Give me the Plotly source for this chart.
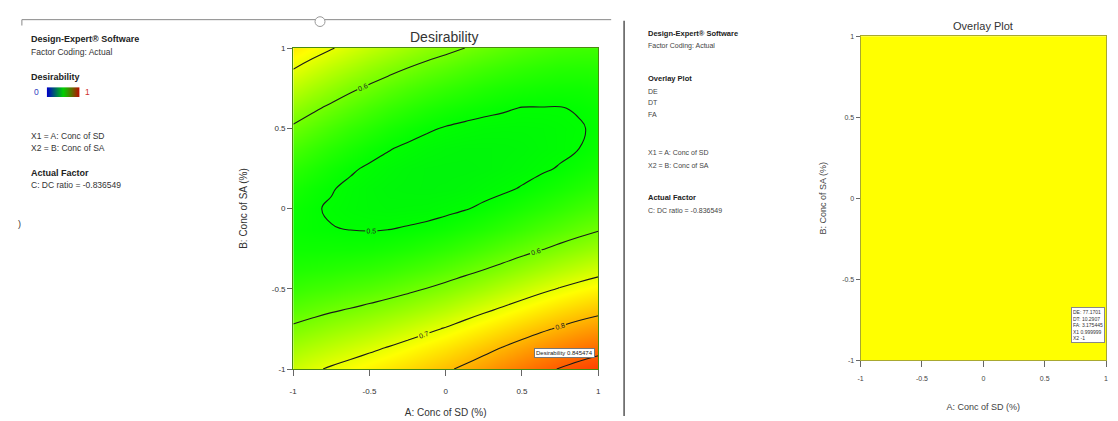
import plotly.graph_objects as go

W, H = 1118, 421
FONT = "Liberation Sans"

# ---------------- data ----------------
grid_x = [-1, -0.875, -0.75, -0.625, -0.5, -0.375, -0.25, -0.125, 0,
          0.125, 0.25, 0.375, 0.5, 0.625, 0.75, 0.875, 1]
grid_y = [-1, -0.875, -0.75, -0.625, -0.5, -0.375, -0.25, -0.125, 0,
          0.125, 0.25, 0.375, 0.5, 0.625, 0.75, 0.875, 1]
# desirability estimated from the contour picture (rows = grid_y, cols = grid_x)
desirability = [
    [0.677, 0.692, 0.706, 0.718, 0.731, 0.745, 0.759, 0.775, 0.792, 0.810, 0.829, 0.849, 0.868, 0.886, 0.903, 0.917, 0.929],
    [0.643, 0.656, 0.668, 0.680, 0.692, 0.705, 0.719, 0.734, 0.750, 0.768, 0.786, 0.805, 0.823, 0.841, 0.858, 0.873, 0.885],
    [0.608, 0.619, 0.630, 0.640, 0.650, 0.662, 0.675, 0.689, 0.704, 0.721, 0.738, 0.756, 0.774, 0.791, 0.807, 0.822, 0.834],
    [0.575, 0.584, 0.593, 0.601, 0.610, 0.620, 0.631, 0.643, 0.657, 0.673, 0.689, 0.705, 0.722, 0.739, 0.755, 0.769, 0.782],
    [0.547, 0.554, 0.559, 0.566, 0.572, 0.580, 0.590, 0.601, 0.613, 0.627, 0.641, 0.657, 0.672, 0.688, 0.703, 0.717, 0.729],
    [0.526, 0.529, 0.532, 0.536, 0.540, 0.546, 0.554, 0.562, 0.573, 0.585, 0.598, 0.611, 0.626, 0.640, 0.654, 0.667, 0.680],
    [0.512, 0.512, 0.513, 0.513, 0.515, 0.519, 0.524, 0.531, 0.539, 0.549, 0.560, 0.572, 0.584, 0.597, 0.610, 0.622, 0.634],
    [0.506, 0.503, 0.501, 0.499, 0.498, 0.499, 0.502, 0.506, 0.512, 0.520, 0.528, 0.538, 0.549, 0.561, 0.572, 0.584, 0.595],
    [0.509, 0.503, 0.497, 0.492, 0.489, 0.487, 0.488, 0.489, 0.493, 0.498, 0.505, 0.513, 0.522, 0.531, 0.541, 0.552, 0.562],
    [0.520, 0.510, 0.502, 0.494, 0.488, 0.484, 0.482, 0.481, 0.482, 0.485, 0.490, 0.495, 0.502, 0.510, 0.518, 0.527, 0.537],
    [0.538, 0.526, 0.514, 0.504, 0.496, 0.489, 0.484, 0.481, 0.480, 0.480, 0.482, 0.486, 0.490, 0.496, 0.502, 0.510, 0.518],
    [0.563, 0.548, 0.534, 0.522, 0.511, 0.502, 0.495, 0.489, 0.485, 0.483, 0.483, 0.484, 0.486, 0.490, 0.494, 0.500, 0.508],
    [0.593, 0.576, 0.560, 0.545, 0.533, 0.521, 0.512, 0.504, 0.498, 0.494, 0.491, 0.490, 0.490, 0.491, 0.494, 0.498, 0.504],
    [0.627, 0.608, 0.591, 0.575, 0.560, 0.547, 0.536, 0.526, 0.518, 0.512, 0.507, 0.503, 0.499, 0.499, 0.499, 0.502, 0.507],
    [0.664, 0.644, 0.626, 0.608, 0.593, 0.578, 0.565, 0.554, 0.544, 0.536, 0.528, 0.522, 0.518, 0.515, 0.513, 0.513, 0.516],
    [0.702, 0.682, 0.663, 0.646, 0.629, 0.614, 0.600, 0.587, 0.576, 0.565, 0.556, 0.548, 0.541, 0.536, 0.532, 0.531, 0.532],
    [0.741, 0.721, 0.703, 0.685, 0.668, 0.653, 0.638, 0.624, 0.612, 0.600, 0.589, 0.579, 0.570, 0.563, 0.557, 0.554, 0.553],
]
contour_start, contour_end, contour_step = 0.5, 0.9, 0.1
flag_desirability = 0.845474

overlay_x = [-1, 1]
overlay_y = [-1, 1]
overlay_feasible = [[1, 1], [1, 1]]
overlay_flag_names = ["DE", "DT", "FA", "X1", "X2"]
overlay_flag_values = ["77.1701", "10.2907", "3.175445", "0.999999", "-1"]

legend_values = [0, 0.25, 0.5, 0.75, 1]

tick_vals = [-1, -0.5, 0, 0.5, 1]
tick_text = ["-1", "-0.5", "0", "0.5", "1"]

info_lines = ["X1 = A: Conc of SD", "X2 = B: Conc of SA"]
actual_factor = "C: DC ratio = -0.836549"
overlay_responses = ["DE", "DT", "FA"]

desir_scale = [[0, "#0000ff"], [0.5, "#00ff00"], [0.72, "#ffff00"], [1, "#ff0000"]]

# ---------------- figure ----------------
fig = go.Figure()

fig.add_trace(go.Contour(
    x=grid_x, y=grid_y, z=desirability, zmin=0, zmax=1,
    colorscale=desir_scale, showscale=False, hoverinfo="skip",
    contours=dict(start=contour_start, end=contour_end, size=contour_step,
                  coloring="heatmap", showlabels=True,
                  labelfont=dict(size=7, color="#222", family=FONT)),
    line=dict(color="#1a1a1a", width=1.1, smoothing=1.3),
    xaxis="x", yaxis="y",
))

fig.add_trace(go.Heatmap(
    x=overlay_x, y=overlay_y, z=overlay_feasible,
    colorscale=[[0, "#ffff00"], [1, "#ffff00"]], showscale=False,
    hoverinfo="skip", xaxis="x2", yaxis="y2",
))

fig.add_trace(go.Heatmap(
    x=legend_values, y=[0], z=[legend_values], zmin=0, zmax=1,
    colorscale=[[0, "#0000c8"], [0.5, "#00d000"], [1, "#c80000"]],
    zsmooth="best", showscale=False, hoverinfo="skip",
    xaxis="x3", yaxis="y3",
))


def px(x):
    return x / W


def py(y):
    return 1 - y / H


axis_common = dict(range=[-1, 1], tickvals=tick_vals, ticktext=tick_text,
                   ticks="outside", tickcolor="#666",
                   showgrid=False, zeroline=False, showline=True, mirror=True)

fig.update_layout(
    width=W, height=H, margin=dict(l=0, r=0, t=0, b=0),
    paper_bgcolor="white", plot_bgcolor="white", showlegend=False,
    font=dict(family=FONT, color="#333"),
    xaxis=dict(domain=[px(291), px(598)], anchor="y", linecolor="#4a8a10",
               ticklen=6, ticklabelstandoff=8,
               tickfont=dict(size=8, color="#333"),
               title=dict(text="A: Conc of SD (%)", font=dict(size=10, color="#333"), standoff=14),
               **axis_common),
    yaxis=dict(domain=[py(373), py(45)], anchor="x", linecolor="#4a8a10",
               ticklen=5,
               tickfont=dict(size=8, color="#333"),
               title=dict(text="B: Conc of SA (%)", font=dict(size=10, color="#333"), standoff=22),
               **axis_common),
    xaxis2=dict(domain=[px(862), px(1109)], anchor="y2", linecolor="#a8a830",
                ticklen=6, ticklabelstandoff=5,
                tickfont=dict(size=7, color="#444"),
                title=dict(text="A: Conc of SD (%)", font=dict(size=9, color="#444"), standoff=23),
                **axis_common),
    yaxis2=dict(domain=[py(364), py(33)], anchor="x2", linecolor="#a8a830",
                ticklen=4,
                tickfont=dict(size=7, color="#444"),
                title=dict(text="B: Conc of SA (%)", font=dict(size=9, color="#444"), standoff=13),
                **axis_common),
    xaxis3=dict(domain=[px(43), px(76)], anchor="y3", visible=False, range=[0, 1]),
    yaxis3=dict(domain=[py(95), py(85)], anchor="x3", visible=False, range=[-0.5, 0.5]),
)

ann = []


def note(text, x, y, size, bold=False, color="#333", xanchor="left"):
    ann.append(dict(text=f"<b>{text}</b>" if bold else text, x=px(x), y=py(y),
                    xref="paper", yref="paper", xanchor=xanchor, yanchor="middle",
                    showarrow=False, font=dict(size=size, color=color, family=FONT)))


# left info panel
LX = 25
note("Design-Expert® Software", LX, 36, 9, bold=True, color="#222")
note("Factor Coding: Actual", LX, 49, 8.5)
note("Desirability", LX, 75, 9, bold=True, color="#222")
note(str(legend_values[0]), 28, 90, 8.5, color="#3040c0")
note(str(legend_values[-1]), 79, 90, 8.5, color="#d03030")
note(info_lines[0], LX, 135, 8.5)
note(info_lines[1], LX, 147, 8.5)
note("Actual Factor", LX, 173, 9, bold=True, color="#222")
note(actual_factor, LX, 185, 8.5)
note(")", 12, 225, 9)

# right info panel
RX = 646
note("Design-Expert® Software", RX, 30, 7.5, bold=True, color="#222")
note("Factor Coding: Actual", RX, 43, 7, color="#444")
note("Overlay Plot", RX, 76, 7.5, bold=True, color="#222")
for i, r in enumerate(overlay_responses):
    note(r, RX, 89 + 12 * i, 7, color="#444")
note(info_lines[0], RX, 152, 7, color="#444")
note(info_lines[1], RX, 165, 7, color="#444")
note("Actual Factor", RX, 198, 7.5, bold=True, color="#222")
note(actual_factor, RX, 211, 7, color="#444")

# titles
note("Desirability", 443, 34, 14, color="#333", xanchor="center")
note("Overlay Plot", 985, 22, 11, color="#333", xanchor="center")

# flags
ann.append(dict(text=f"Desirability {flag_desirability}", x=0.78, y=-0.9, xref="x", yref="y",
                showarrow=False, font=dict(size=6, color="#222", family=FONT),
                bgcolor="white", bordercolor="#777", borderwidth=1, borderpad=1))
ann.append(dict(text="<br>".join(f"{n}: {v}" if n in ("DE", "DT", "FA") else f"{n} {v}"
                                 for n, v in zip(overlay_flag_names, overlay_flag_values)),
                x=0.99, y=-0.78, xref="x2", yref="y2", xanchor="right", align="left",
                showarrow=False, font=dict(size=5, color="#333", family=FONT),
                bgcolor="white", bordercolor="#888", borderwidth=1, borderpad=1))

fig.update_layout(annotations=ann)

# screenshot frame lines
fig.update_layout(shapes=[
    dict(type="line", xref="paper", yref="paper", x0=px(18), x1=px(611), y0=py(16), y1=py(16),
         line=dict(color="#888", width=1)),
    dict(type="line", xref="paper", yref="paper", x0=px(18), x1=px(18), y0=py(16), y1=py(22),
         line=dict(color="#888", width=1)),
    dict(type="circle", xref="paper", yref="paper", x0=px(313), x1=px(323), y0=py(23), y1=py(13),
         line=dict(color="#999", width=1), fillcolor="white"),
    dict(type="line", xref="paper", yref="paper", x0=px(624), x1=px(624), y0=py(17), y1=py(421),
         line=dict(color="#555", width=1.5)),
])

fig.write_html("out.html", config={"displayModeBar": False},
               post_script="document.body.style.margin='0px';")
